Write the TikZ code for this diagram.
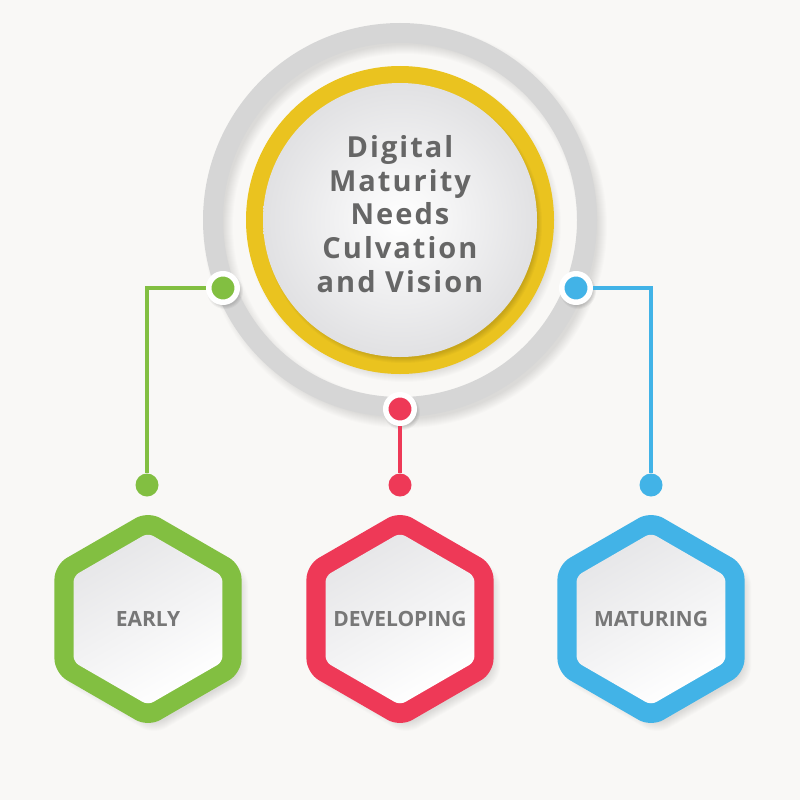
\documentclass[tikz,border=0pt]{standalone}
\usepackage{fontspec}
\setmainfont{Open Sans}
\newfontfamily\titlefont[LetterSpace=7]{Open Sans}
\usetikzlibrary{shapes.geometric}
\definecolor{bgc}{HTML}{F9F8F6}
\definecolor{ringgray}{HTML}{D6D6D6}
\definecolor{ringyellow}{HTML}{EAC31F}
\definecolor{cgreen}{HTML}{82BF41}
\definecolor{cred}{HTML}{EE3957}
\definecolor{cblue}{HTML}{42B3E7}
\definecolor{titlec}{HTML}{666666}
\definecolor{lblc}{HTML}{777777}
\definecolor{diskedge}{HTML}{E1E1E3}
\definecolor{hexgray}{HTML}{E6E6E8}
\pgfdeclarelayer{back}
\pgfdeclarelayer{conn}
\pgfsetlayers{back,conn,main}
\begin{document}
\begin{tikzpicture}[x=1pt,y=-1pt,
  dotc/.style={circle, inner sep=0pt, minimum size=28.5pt, draw=white, line width=5.5pt, fill=#1},
  enddot/.style={circle, inner sep=0pt, minimum size=23pt, fill=#1},
  link/.style={draw=#1, line width=4pt},
  hexo/.style={regular polygon, regular polygon sides=6, shape border rotate=90, minimum size=216pt, inner sep=0pt, rounded corners=14pt, fill=#1},
  hexi/.style={regular polygon, regular polygon sides=6, shape border rotate=90, minimum size=172pt, inner sep=0pt, rounded corners=6pt, shading=axis, top color=hexgray, bottom color=white, shading angle=30},
  lbl/.style={text=lblc, font=\bfseries\fontsize{21}{21}\selectfont},
  soft/.style={black, opacity=0.011}
]
\useasboundingbox (0,0) rectangle (800,800);
\begin{pgfonlayer}{back}
\fill[bgc] (0,0) rectangle (800,800);
% shadow of gray ring
\foreach \k in {0,...,9}{
  \fill[soft, even odd rule] (405,226) circle (193+\k) circle (181-\k);
}
\fill[ringgray, even odd rule] (400,220) circle (197) circle (177);
% shadow of yellow disc
\foreach \k in {0,...,9}{
  \fill[soft] (404,225) circle (148+\k);
}
\fill[ringyellow] (400,220) circle (154);
% shadow of white disc on yellow
\foreach \k in {0,...,5}{
  \fill[black, opacity=0.025] (403,224) circle (134+\k);
}
\shade[inner color=white, outer color=diskedge] (400,220) circle (137);
% hexagon shadows
\foreach \cx in {148,400,651}{
  \foreach \k in {0,...,9}{
    \pgfmathsetmacro\R{100+\k}
    \fill[soft, rounded corners=14pt, shift={(\cx+6,626)}] (90:\R) -- (150:\R) -- (210:\R) -- (270:\R) -- (330:\R) -- (30:\R) -- cycle;
  }
}
% dot shadows
\foreach \p in {(225,291),(578,291),(402,412)}{
  \foreach \k in {0,...,3}{
    \fill[black, opacity=0.04] \p circle (15+\k);
  }
}
\end{pgfonlayer}

\node[font=\titlefont\bfseries\fontsize{29}{33.7}\selectfont, text=titlec, align=center] (title) at (400,214) {Digital\\Maturity\\Needs\\Culvation\\and Vision};

% connector dots
\node[dotc=cgreen] (dg) at (223,288) {};
\node[dotc=cblue] (db) at (576,288) {};
\node[dotc=cred] (dr) at (400,409) {};
\node[enddot=cgreen] (eg) at (147,485) {};
\node[enddot=cred] (er) at (400,485) {};
\node[enddot=cblue] (eb) at (651,485) {};

\begin{pgfonlayer}{conn}
\draw[link=cgreen] (dg) -| (eg);
\draw[link=cred] (dr) -- (er);
\draw[link=cblue] (db) -| (eb);
\end{pgfonlayer}

% hexagons
\node[hexo=cgreen] (hg) at (148,619) {};
\node[hexo=cred] (hr) at (400,619) {};
\node[hexo=cblue] (hb) at (651,619) {};
\node[hexi] (ig) at (148,619) {};
\node[hexi] (ir) at (400,619) {};
\node[hexi] (ib) at (651,619) {};
\node[lbl] (tg) at (ig.center) {EARLY};
\node[lbl] (tr) at (ir.center) {DEVELOPING};
\node[lbl] (tb) at (ib.center) {MATURING};
\end{tikzpicture}
\end{document}
